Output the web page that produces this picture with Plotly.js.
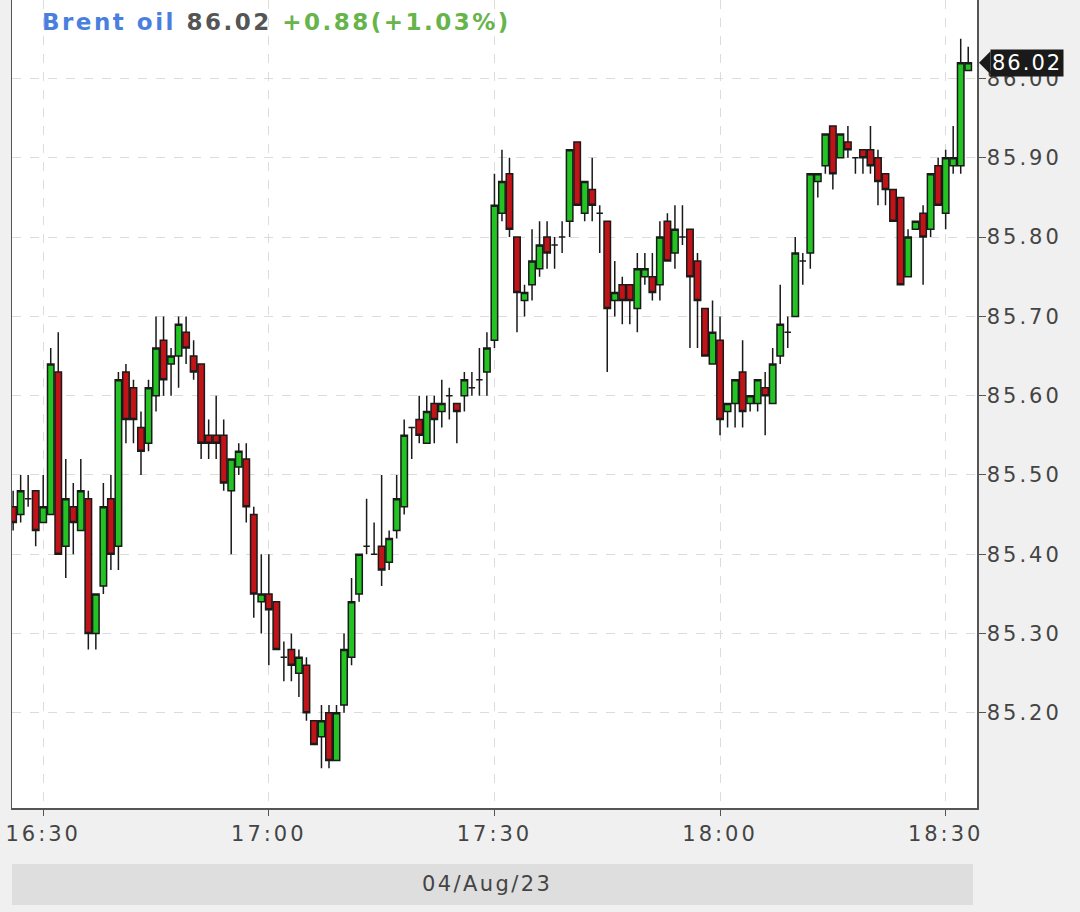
<!DOCTYPE html>
<html>
<head>
<meta charset="utf-8">
<script src="https://cdn.plot.ly/plotly-3.0.1.min.js"></script>
<style>
html,body{margin:0;padding:0;background:#f0f0f0;}
#chart{width:1080px;height:912px;}
</style>
</head>
<body>
<div id="chart"></div>
<script>
// 1-minute bars, 04/Aug/23
var times = [
"16:26","16:27","16:28","16:29","16:30","16:31","16:32","16:33","16:34","16:35",
"16:36","16:37","16:38","16:39","16:40","16:41","16:42","16:43","16:44","16:45",
"16:46","16:47","16:48","16:49","16:50","16:51","16:52","16:53","16:54","16:55",
"16:56","16:57","16:58","16:59",
"17:00","17:01","17:02","17:03","17:04","17:05","17:06","17:07","17:08","17:09",
"17:10","17:11","17:12","17:13","17:14","17:15","17:16","17:17","17:18","17:19",
"17:20","17:21","17:22","17:23","17:24","17:25","17:26","17:27","17:28","17:29",
"17:30","17:31","17:32","17:33","17:34","17:35","17:36","17:37","17:38","17:39",
"17:40","17:41","17:42","17:43","17:44","17:45","17:46","17:47","17:48","17:49",
"17:50","17:51","17:52","17:53","17:54","17:55","17:56","17:57","17:58","17:59",
"18:00","18:01","18:02","18:03","18:04","18:05","18:06","18:07","18:08","18:09",
"18:10","18:11","18:12","18:13","18:14","18:15","18:16","18:17","18:18","18:19",
"18:20","18:21","18:22","18:23","18:24","18:25","18:26","18:27","18:28","18:29",
"18:30","18:31","18:32","18:33"
];
var openP = [
85.46,85.45,85.47,85.48,85.44,85.45,85.63,85.41,85.46,85.43,
85.47,85.30,85.36,85.47,85.41,85.63,85.61,85.56,85.54,85.60,
85.67,85.64,85.65,85.68,85.65,85.64,85.55,85.55,85.55,85.48,
85.51,85.52,85.45,85.34,
85.35,85.34,85.27,85.28,85.25,85.26,85.19,85.17,85.20,85.14,
85.21,85.27,85.35,85.41,85.40,85.41,85.39,85.43,85.46,85.56,
85.57,85.54,85.59,85.58,85.60,85.59,85.60,85.61,85.62,85.63,
85.67,85.83,85.88,85.80,85.72,85.74,85.76,85.80,85.79,85.80,
85.82,85.92,85.83,85.86,85.83,85.82,85.72,85.74,85.74,85.71,
85.75,85.75,85.74,85.82,85.78,85.80,85.81,85.77,85.71,85.64,
85.67,85.58,85.59,85.63,85.59,85.59,85.61,85.59,85.65,85.68,
85.70,85.77,85.78,85.87,85.89,85.94,85.90,85.92,85.90,85.91,
85.91,85.90,85.88,85.86,85.85,85.75,85.81,85.83,85.81,85.89,
85.83,85.89,85.89,86.01
];
var highP = [
85.48,85.50,85.50,85.48,85.50,85.66,85.68,85.52,85.49,85.52,
85.48,85.35,85.49,85.50,85.63,85.64,85.62,85.58,85.62,85.70,
85.70,85.66,85.70,85.70,85.67,85.64,85.57,85.60,85.57,85.52,
85.54,85.54,85.46,85.40,
85.40,85.34,85.29,85.30,85.28,85.27,85.19,85.21,85.21,85.21,
85.30,85.37,85.40,85.47,85.44,85.50,85.43,85.50,85.57,85.56,
85.60,85.60,85.60,85.62,85.61,85.59,85.63,85.63,85.66,85.68,
85.88,85.91,85.90,85.80,85.74,85.81,85.82,85.82,85.80,85.82,
85.91,85.92,85.87,85.90,85.84,85.82,85.77,85.75,85.74,85.78,
85.78,85.78,85.82,85.83,85.84,85.84,85.81,85.78,85.71,85.72,
85.70,85.59,85.62,85.67,85.60,85.62,85.63,85.66,85.74,85.70,
85.80,85.78,85.88,85.88,85.93,85.94,85.93,85.94,85.90,85.91,
85.94,85.91,85.88,85.86,85.85,85.81,85.82,85.84,85.88,85.90,
85.91,85.94,86.05,86.04
];
var lowP = [
85.43,85.44,85.46,85.41,85.44,85.45,85.40,85.37,85.40,85.43,
85.28,85.28,85.35,85.38,85.38,85.54,85.54,85.50,85.53,85.58,
85.60,85.60,85.61,85.64,85.62,85.52,85.52,85.52,85.48,85.40,
85.50,85.44,85.32,85.30,
85.26,85.28,85.24,85.24,85.22,85.19,85.16,85.13,85.13,85.14,
85.20,85.26,85.34,85.40,85.40,85.36,85.38,85.42,85.45,85.52,
85.54,85.54,85.54,85.56,85.57,85.54,85.58,85.60,85.60,85.60,
85.66,85.82,85.80,85.68,85.70,85.72,85.75,85.76,85.76,85.78,
85.80,85.84,85.82,85.82,85.78,85.63,85.70,85.69,85.69,85.68,
85.74,85.72,85.72,85.77,85.76,85.79,85.66,85.66,85.65,85.64,
85.55,85.56,85.56,85.56,85.58,85.58,85.55,85.59,85.64,85.66,
85.70,85.74,85.76,85.85,85.88,85.86,85.90,85.90,85.88,85.88,
85.88,85.84,85.84,85.82,85.74,85.75,85.81,85.74,85.80,85.84,
85.81,85.88,85.88,86.01
];
var closeP = [
85.44,85.48,85.47,85.43,85.46,85.64,85.40,85.47,85.44,85.48,
85.30,85.35,85.46,85.40,85.62,85.57,85.57,85.53,85.61,85.66,
85.62,85.65,85.69,85.66,85.63,85.54,85.54,85.54,85.49,85.52,
85.53,85.46,85.35,85.35,
85.33,85.28,85.27,85.26,85.27,85.20,85.16,85.19,85.14,85.20,
85.28,85.34,85.40,85.41,85.40,85.38,85.42,85.47,85.55,85.56,
85.55,85.58,85.57,85.59,85.60,85.58,85.62,85.61,85.62,85.66,
85.84,85.87,85.81,85.73,85.73,85.77,85.79,85.78,85.79,85.80,
85.91,85.84,85.87,85.84,85.83,85.71,85.73,85.72,85.72,85.76,
85.76,85.73,85.80,85.77,85.81,85.80,85.75,85.72,85.65,85.68,
85.57,85.59,85.62,85.58,85.60,85.62,85.60,85.64,85.69,85.68,
85.78,85.77,85.88,85.88,85.93,85.88,85.93,85.91,85.90,85.90,
85.89,85.87,85.86,85.82,85.74,85.80,85.82,85.80,85.88,85.84,
85.90,85.90,86.02,86.02
];
var yTickVals = [85.2, 85.3, 85.4, 85.5, 85.6, 85.7, 85.8, 85.9, 86.0];
var yTickLabels = ["85.20","85.30","85.40","85.50","85.60","85.70","85.80","85.90","86.00"];
var xTickTimes = ["16:30","17:00","17:30","18:00","18:30"];
var instrument = "Brent oil";
var lastPrice = "86.02";
var lastValue = 86.02;
var change = "+0.88(+1.03%)";
var dateLabel = "04/Aug/23";
var day = "2023-08-04 ";

function spaced(t, px){ return "<span style='letter-spacing:" + px + "px'>" + t + "</span>"; }

var x = times.map(function(t){ return day + t + ":00"; });

var trace = {
  type: "candlestick",
  x: x, open: openP, high: highP, low: lowP, close: closeP,
  increasing: {line: {color: "#1a1a1a", width: 1.5}, fillcolor: "#22c322"},
  decreasing: {line: {color: "#1a1a1a", width: 1.5}, fillcolor: "#c01418"},
  whiskerwidth: 0,
  hoverinfo: "none",
  showlegend: false
};

var gridCol = "#dcdcdc";
var axisCol = "#555555";
var tickFont = {family: "DejaVu Sans", size: 21, color: "#444444"};

var layout = {
  width: 1080, height: 912,
  margin: {l: 12, r: 103, t: 0, b: 104},
  paper_bgcolor: "#f0f0f0",
  plot_bgcolor: "#ffffff",
  boxgap: 0.14,
  boxgroupgap: 0,
  xaxis: {
    type: "date",
    range: [day + "16:25:51", day + "18:34:10"],
    tickmode: "array",
    tickvals: xTickTimes.map(function(t){ return day + t + ":00"; }),
    ticktext: xTickTimes.map(function(t){ return spaced(t, 3); }),
    showgrid: true, gridcolor: gridCol, griddash: "dash", gridwidth: 1,
    showline: true, linecolor: axisCol, linewidth: 1.5,
    ticks: "outside", ticklen: 6, tickcolor: axisCol,
    tickfont: tickFont,
    rangeslider: {visible: false},
    fixedrange: true
  },
  yaxis: {
    side: "right",
    range: [85.080, 86.099],
    tickmode: "array",
    tickvals: yTickVals,
    ticktext: yTickLabels.map(function(t){ return spaced(t, 3); }),
    showgrid: true, gridcolor: gridCol, griddash: "dash", gridwidth: 1,
    showline: true, mirror: true, linecolor: axisCol, linewidth: 1.5,
    ticks: "outside", ticklen: 7, tickcolor: axisCol,
    ticklabelstandoff: -3,
    tickfont: tickFont,
    zeroline: false,
    fixedrange: true
  },
  shapes: [
    {type: "rect", xref: "paper", yref: "paper", x0: 0, x1: 0.9959, y0: -0.0693, y1: -0.12,
     fillcolor: "#dedede", line: {width: 0}, layer: "below"},
    {type: "path", xref: "paper", yref: "y",
     path: "M 1.0021 " + lastValue + " L 1.0140 " + (lastValue - 0.0145) + " L 1.0140 " + (lastValue + 0.0145) + " Z",
     fillcolor: "#1a1a1a", line: {width: 0}}
  ],
  annotations: [
    {xref: "paper", yref: "paper", x: 0.029, y: 0.9728, xanchor: "left", yanchor: "middle",
     showarrow: false,
     text: "<b><span style='letter-spacing:2.5px'><span style='color:#4a7fe0'>" + instrument + "</span> <span style='color:#555555'>" + lastPrice +
           "</span> <span style='color:#66b44a'>" + change + "</span></span></b>",
     font: {family: "DejaVu Sans", size: 23}},
    {xref: "paper", yref: "y", x: 1.0135, y: lastValue, xanchor: "left", yanchor: "middle",
     showarrow: false, text: spaced(lastPrice, 2), bgcolor: "#1a1a1a", borderpad: 1,
     font: {family: "DejaVu Sans", size: 21, color: "#ffffff"}},
    {xref: "paper", yref: "paper", x: 0.492, y: -0.094, xanchor: "center", yanchor: "middle",
     showarrow: false, text: spaced(dateLabel, 2.4),
     font: {family: "DejaVu Sans", size: 21, color: "#444444"}}
  ]
};

Plotly.newPlot("chart", [trace], layout, {displayModeBar: false, staticPlot: true});
</script>
</body>
</html>
